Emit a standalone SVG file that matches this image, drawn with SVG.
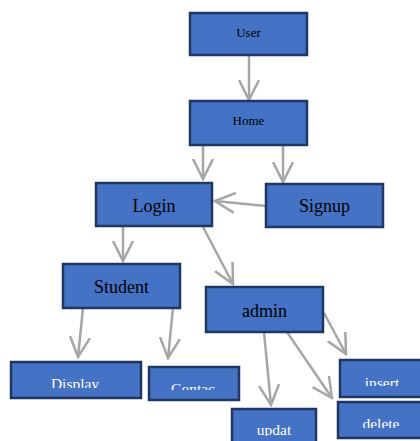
<svg xmlns="http://www.w3.org/2000/svg" width="420" height="441" viewBox="0 0 420 441">
<style>
.box{fill:#4472c4;stroke:#1f3763;stroke-width:2.5}
.dk{font-family:"Liberation Serif","Times New Roman",serif;fill:#000;text-anchor:middle}
.wt{font-family:"Liberation Serif","Times New Roman",serif;fill:#fff;text-anchor:middle;font-size:15.5px}
.c{stroke:#a6a6a6;stroke-width:2.5;fill:none}
</style>
<defs>
<marker id="ah" viewBox="0 0 22 22" refX="20" refY="11" markerWidth="22" markerHeight="22" markerUnits="userSpaceOnUse" orient="auto">
<path d="M0,1 L20,11 L0,21" fill="none" stroke="#a6a6a6" stroke-width="2.5"/>
</marker>
<clipPath id="cDisplay"><rect x="0" y="360" width="160" height="28"/></clipPath>
<clipPath id="cContac"><rect x="145" y="365" width="100" height="25"/></clipPath>
<clipPath id="cInsert"><rect x="335" y="358" width="90" height="28"/></clipPath>
<clipPath id="cDelete"><rect x="335" y="400" width="90" height="28"/></clipPath>
<clipPath id="cUpdat"><rect x="225" y="405" width="100" height="31"/></clipPath>
</defs>
<g id="connectors">
<line class="c" x1="249" y1="55" x2="249" y2="100" marker-end="url(#ah)"/>
<line class="c" x1="203" y1="145" x2="203" y2="179" marker-end="url(#ah)"/>
<line class="c" x1="283" y1="145" x2="283" y2="182" marker-end="url(#ah)"/>
<line class="c" x1="266" y1="206" x2="215" y2="201" marker-end="url(#ah)"/>
<line class="c" x1="123" y1="226" x2="123" y2="261" marker-end="url(#ah)"/>
<line class="c" x1="203" y1="227" x2="233" y2="284" marker-end="url(#ah)"/>
<line class="c" x1="83" y1="308" x2="78" y2="357" marker-end="url(#ah)"/>
<line class="c" x1="173" y1="308" x2="168" y2="358" marker-end="url(#ah)"/>
<line class="c" x1="264" y1="332" x2="271" y2="405" marker-end="url(#ah)"/>
<line class="c" x1="287" y1="332" x2="332" y2="398" marker-end="url(#ah)"/>
<line class="c" x1="324" y1="313" x2="346" y2="354" marker-end="url(#ah)"/>
</g>
<g id="user"><rect class="box" x="190" y="13" width="117" height="42"/><text class="dk" x="248.5" y="37" font-size="13">User</text></g>
<g id="home"><rect class="box" x="190" y="101" width="117" height="44"/><text class="dk" x="248.5" y="125" font-size="13">Home</text></g>
<g id="login"><rect class="box" x="96" y="183" width="116" height="43"/><text class="dk" x="154" y="212" font-size="18">Login</text></g>
<g id="signup"><rect class="box" x="266" y="184" width="117" height="43"/><text class="dk" x="324.5" y="212" font-size="18">Signup</text></g>
<g id="student"><rect class="box" x="63" y="264" width="117" height="44"/><text class="dk" x="121.5" y="293" font-size="18">Student</text></g>
<g id="admin"><rect class="box" x="206" y="287" width="117" height="45"/><text class="dk" x="264.5" y="317" font-size="18">admin</text></g>
<g id="display"><rect class="box" x="11" y="362" width="130" height="36"/><text class="wt" x="75" y="389" clip-path="url(#cDisplay)">Display</text></g>
<g id="contac"><rect class="box" x="149" y="367" width="90" height="33"/><text class="wt" x="193" y="394" clip-path="url(#cContac)">Contac</text></g>
<g id="insert"><rect class="box" x="340" y="360" width="84" height="37"/><text class="wt" x="382" y="388" clip-path="url(#cInsert)">insert</text></g>
<g id="delete"><rect class="box" x="338" y="402" width="86" height="36"/><text class="wt" x="381" y="429" clip-path="url(#cDelete)">delete</text></g>
<g id="updat"><rect class="box" x="232" y="409" width="84" height="40"/><text class="wt" x="274" y="435" clip-path="url(#cUpdat)">updat</text></g>
</svg>
